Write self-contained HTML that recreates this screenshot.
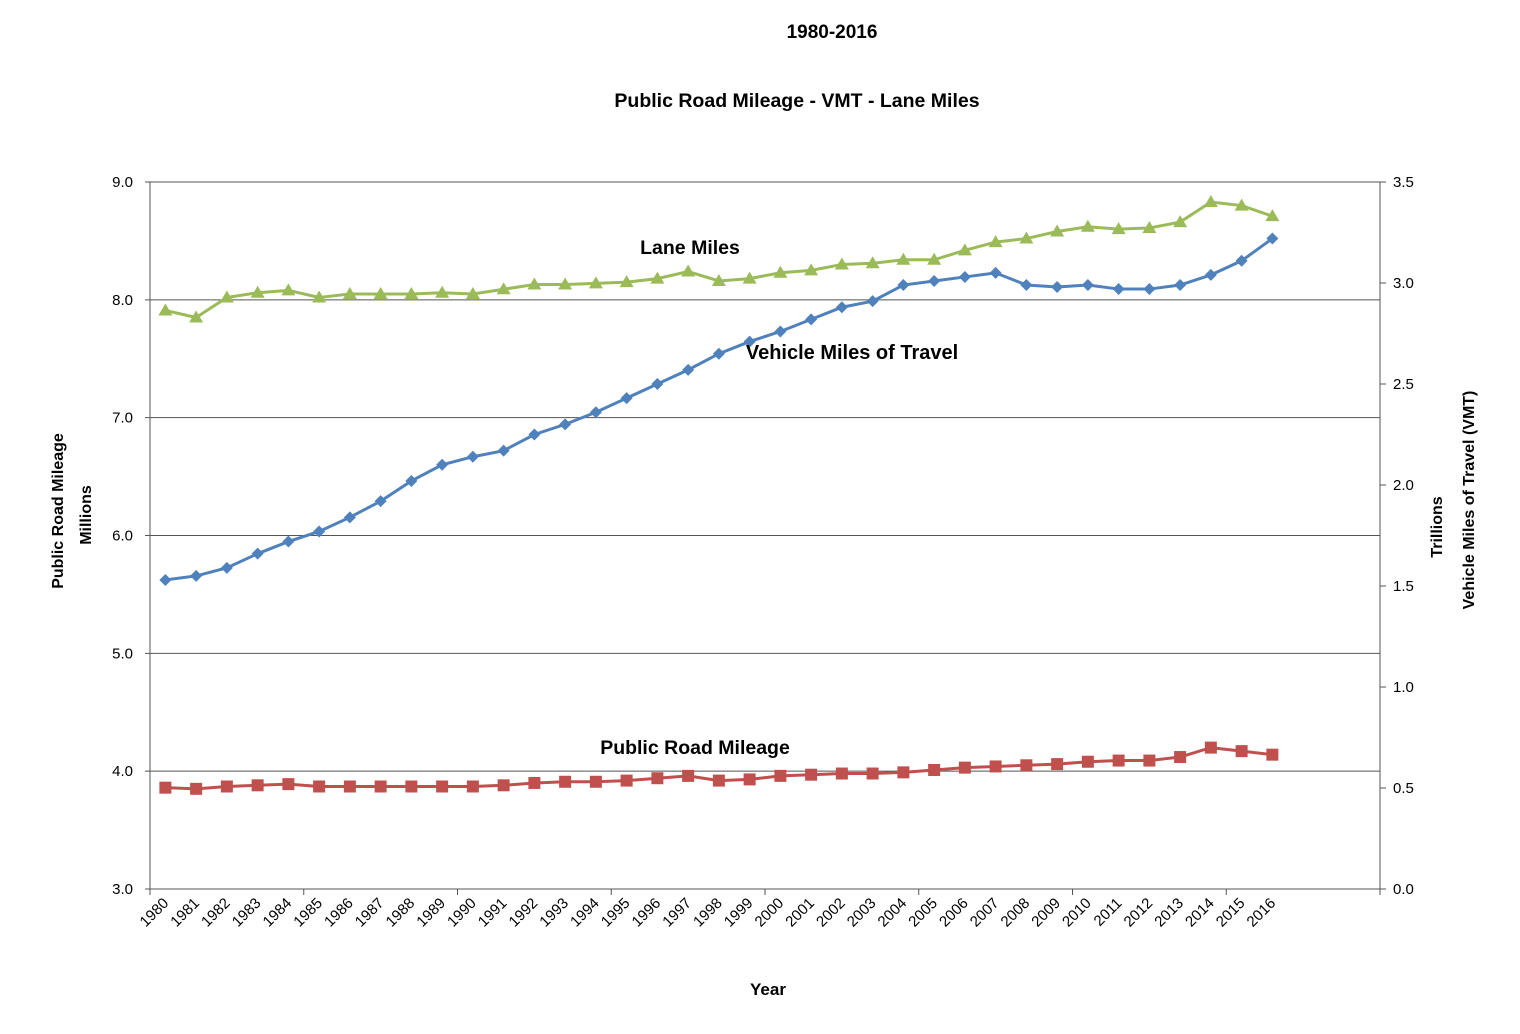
<!DOCTYPE html>
<html><head><meta charset="utf-8"><style>
body{margin:0;background:#fff;}
svg text{font-family:"Liberation Sans",Arial,sans-serif;fill:#000;}
</style></head><body>
<svg id="chart" width="1520" height="1029" xmlns="http://www.w3.org/2000/svg">
<text x="832" y="38" font-size="19" font-weight="bold" text-anchor="middle">1980-2016</text>
<text x="797" y="107" font-size="19.5" font-weight="bold" text-anchor="middle">Public Road Mileage - VMT - Lane Miles</text>
<g id="grid"></g><g id="axes"></g><g id="series"></g>
<text transform="translate(63,511) rotate(-90)" font-size="16" font-weight="bold" text-anchor="middle">Public Road Mileage</text>
<text transform="translate(91,515) rotate(-90)" font-size="16" font-weight="bold" text-anchor="middle">Millions</text>
<text transform="translate(1442,527) rotate(-90)" font-size="16" font-weight="bold" text-anchor="middle">Trillions</text>
<text transform="translate(1474,500) rotate(-90)" font-size="16" font-weight="bold" text-anchor="middle">Vehicle Miles of Travel (VMT)</text>
<text x="768" y="995" font-size="17" font-weight="bold" text-anchor="middle">Year</text>
<text x="690" y="254" font-size="19.5" font-weight="bold" text-anchor="middle">Lane Miles</text>
<text x="852" y="359" font-size="20" font-weight="bold" text-anchor="middle">Vehicle Miles of Travel</text>
<text x="695" y="754" font-size="19.5" font-weight="bold" text-anchor="middle">Public Road Mileage</text>
</svg>
<script>
const years=[];for(let y=1980;y<=2016;y++)years.push(y);
const laneMiles=[7.91,7.85,8.02,8.06,8.08,8.02,8.05,8.05,8.05,8.06,8.05,8.09,8.13,8.13,8.14,8.15,8.18,8.24,8.16,8.18,8.23,8.25,8.30,8.31,8.34,8.34,8.42,8.49,8.52,8.58,8.62,8.60,8.61,8.66,8.83,8.80,8.71];
const vmt=[1.53,1.55,1.59,1.66,1.72,1.77,1.84,1.92,2.02,2.10,2.14,2.17,2.25,2.30,2.36,2.43,2.50,2.57,2.65,2.71,2.76,2.82,2.88,2.91,2.99,3.01,3.03,3.05,2.99,2.98,2.99,2.97,2.97,2.99,3.04,3.11,3.22];
const roadMileage=[3.86,3.85,3.87,3.88,3.89,3.87,3.87,3.87,3.87,3.87,3.87,3.88,3.90,3.91,3.91,3.92,3.94,3.96,3.92,3.93,3.96,3.97,3.98,3.98,3.99,4.01,4.03,4.04,4.05,4.06,4.08,4.09,4.09,4.12,4.20,4.17,4.14];
const leftTicks=[3,4,5,6,7,8,9];
const rightTicks=[0,0.5,1,1.5,2,2.5,3,3.5];
const X0=150,X1=1380,Y0=182,Y1=889,NSLOT=40;
const slot=(X1-X0)/NSLOT;
const xs=i=>X0+slot*(i+0.5);
const yl=v=>Y1-(v-3)/6*(Y1-Y0);
const yr=v=>Y1-v/3.5*(Y1-Y0);
const NS="http://www.w3.org/2000/svg";
function mk(tag,attrs,parent){const e=document.createElementNS(NS,tag);for(const k in attrs)e.setAttribute(k,attrs[k]);parent.appendChild(e);return e;}
const grid=document.getElementById('grid'),axes=document.getElementById('axes'),ser=document.getElementById('series');
leftTicks.forEach(v=>{
 const l=mk('line',{x1:X0-5,x2:X1,y1:yl(v),y2:yl(v),stroke:'#555','stroke-width':1},grid);
 
 
 const t=mk('text',{x:X0-17,y:yl(v)+5,'font-size':15,'text-anchor':'end'},axes);t.textContent=v.toFixed(1);
 
 
});
rightTicks.forEach(v=>{
 mk('line',{x1:X1,x2:X1+6,y1:yr(v),y2:yr(v),stroke:'#555'},axes);
 const t=mk('text',{x:X1+13,y:yr(v)+5,'font-size':15},axes);t.textContent=v.toFixed(1);
 
 
});
mk('line',{x1:X0,x2:X0,y1:Y0,y2:Y1,stroke:'#555'},axes);
mk('line',{x1:X1,x2:X1,y1:Y0,y2:Y1,stroke:'#555'},axes);
for(let k=0;k<=NSLOT;k+=5)mk('line',{x1:X0+k*slot,x2:X0+k*slot,y1:Y1,y2:Y1+6,stroke:'#555'},axes);
years.forEach((y,i)=>{
 const t=mk('text',{transform:`translate(${xs(i)+4},${Y1+15}) rotate(-45)`,'font-size':15,'text-anchor':'end'},axes);t.textContent=y;
 
 
});
function line(vals,yf,color,name,marker){
 const p=mk('polyline',{points:vals.map((v,i)=>xs(i)+','+yf(v)).join(' '),fill:'none',stroke:color,'stroke-width':3},ser);
 
 
 vals.forEach((v,i)=>{
  const x=xs(i),y=yf(v);let m;
  if(marker==='tri')m=mk('polygon',{points:`${x},${y-7} ${x-7},${y+5} ${x+7},${y+5}`,fill:color},ser);
  else if(marker==='dia')m=mk('polygon',{points:`${x},${y-6} ${x+6},${y} ${x},${y+6} ${x-6},${y}`,fill:color},ser);
  else m=mk('rect',{x:x-6,y:y-6,width:12,height:12,fill:color},ser);
  
  
 });
}
line(laneMiles,yl,'#9bbb59','lane-miles','tri');
line(vmt,yr,'#4f81bd','vmt','dia');
line(roadMileage,yl,'#c0504d','public-road-mileage','sq');
</script>
</body></html>
